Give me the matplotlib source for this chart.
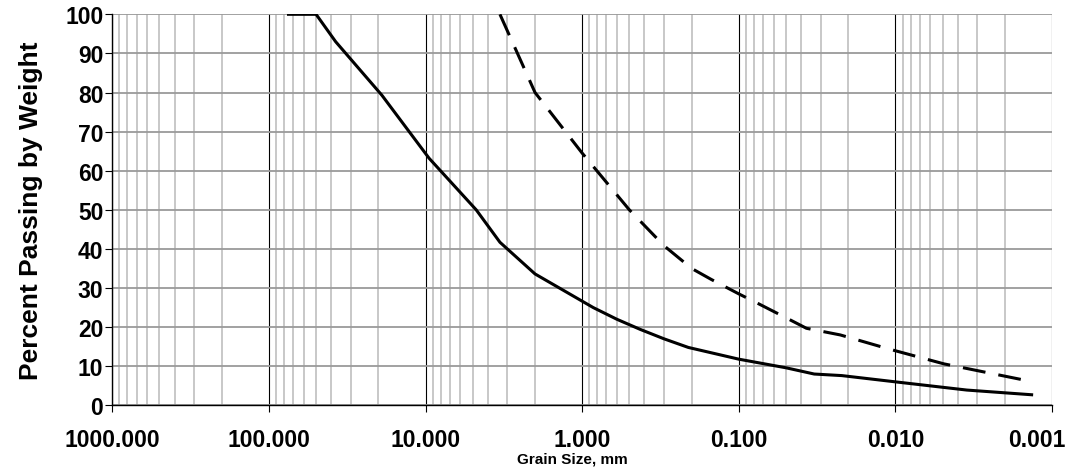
import matplotlib.pyplot as plt
from matplotlib.ticker import LogLocator, FixedLocator, FixedFormatter, NullFormatter
from matplotlib.transforms import ScaledTranslation

# Granulometrijska kriva - vrednosti ocitane sa grafika
solid_size = [75, 50, 37.5, 19, 9.5, 4.75, 3.35, 2.0, 0.85, 0.6, 0.425, 0.3, 0.21,
              0.1, 0.05, 0.033, 0.022, 0.01, 0.0035, 0.00135]
solid_pct = [100, 100, 93, 79.3, 63.2, 50, 41.7, 33.6, 25.0, 22.0, 19.4, 17.0, 14.8,
             11.8, 9.6, 8.0, 7.6, 6.0, 3.9, 2.7]

dashed_size = [3.35, 2.0, 1.0, 0.5, 0.3, 0.2, 0.15, 0.1, 0.075, 0.05, 0.037, 0.0225,
               0.011, 0.0049, 0.0014]
dashed_pct = [100, 80, 64.5, 50, 40.8, 35.0, 32.2, 28.5, 26.0, 22.4, 19.7, 18.0,
              14.4, 10.6, 6.2]

x_ticks = [1000, 100, 10, 1, 0.1, 0.01, 0.001]
x_labels = ["1000.000", "100.000", "10.000", "1.000", "0.100", "0.010", "0.001"]
y_ticks = list(range(0, 101, 10))

plt.rcParams['font.family'] = ['Liberation Sans', 'DejaVu Sans']

fig = plt.figure(figsize=(10.81, 4.77), dpi=100)
ax = fig.add_axes([0.1039, 0.1482, 0.8693, 0.8197])

ax.plot(solid_size, solid_pct, color='black', lw=2.2, solid_joinstyle='round', zorder=3)
ax.plot(dashed_size, dashed_pct, color='black', lw=2.2, dashes=(7.5, 4.3), zorder=3)

ax.set_xscale('log')
ax.set_xlim(1000, 0.001)
ax.set_ylim(0, 100)

ax.xaxis.set_major_locator(FixedLocator(x_ticks))
ax.xaxis.set_major_formatter(FixedFormatter(x_labels))
ax.xaxis.set_minor_locator(LogLocator(base=10, subs=range(2, 10), numticks=50))
ax.xaxis.set_minor_formatter(NullFormatter())
ax.set_yticks(y_ticks)

# mreza: glavne vertikalne crne, sporedne svetlo sive
ax.grid(which='major', axis='x', color='black', lw=0.8)
ax.grid(which='minor', axis='x', color='#c4c4c4', lw=1.3)
ax.grid(which='major', axis='y', color='#9a9a9a', lw=1.3)
ax.set_axisbelow(True)

ax.tick_params(which='major', direction='out', length=5, width=0.8, colors='black')
ax.tick_params(which='minor', length=0)
ax.tick_params(axis='x', pad=11, labelsize=16.5)
ax.tick_params(axis='y', pad=1.5, labelsize=16.5)
for lab in ax.get_xticklabels() + ax.get_yticklabels():
    lab.set_fontweight('bold')

# poslednja oznaka (0.001) pomerena ulevo da stane u sliku
last = ax.get_xticklabels()[-1]
last.set_transform(last.get_transform() + ScaledTranslation(-0.15, 0, fig.dpi_scale_trans))

ax.spines['top'].set_visible(False)
ax.spines['right'].set_visible(False)
ax.spines['left'].set_linewidth(1.0)
ax.spines['bottom'].set_linewidth(1.0)

ax.set_xlabel("Grain Size, mm", fontsize=11, fontweight='bold')
ax.xaxis.set_label_coords(0.49, -0.117)
ax.set_ylabel("Percent Passing by Weight", fontsize=19, fontweight='bold')
ax.yaxis.set_label_coords(-0.074, 0.5)

fig.savefig("out.png", dpi=100)
